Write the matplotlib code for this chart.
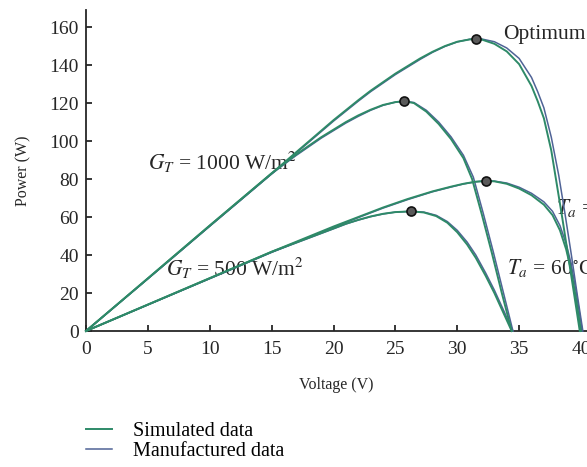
import matplotlib
matplotlib.use("Agg")
import matplotlib.pyplot as plt

plt.rcParams['font.family'] = ['Liberation Serif', 'DejaVu Serif']
plt.rcParams['mathtext.fontset'] = 'stix'

# ---- data ----
# G = 1000 W/m2, Ta = 25 C
V_A_sim = [0, 5, 10, 15, 20, 22, 23, 24, 25, 26, 27, 28, 29, 30, 31, 31.5, 32, 33, 34, 35, 36, 36.5, 37, 37.6, 38, 38.5, 39, 39.5, 39.9]
P_A_sim = [0, 27.7, 55.5, 83, 111, 121.5, 126.5, 131, 135.5, 139.5, 143.5, 147, 150, 152.3, 153.5, 153.7, 153.4, 151.2, 147.2, 140.5, 129, 121, 112, 95, 79, 59, 38, 17, 0]
V_A_man = [0, 5, 10, 15, 20, 22, 23, 24, 25, 26, 27, 28, 29, 30, 31, 31.5, 32, 33, 34, 35, 36, 36.5, 37, 37.6, 38.2, 38.7, 39.2, 39.7, 40.15]
P_A_man = [0, 27.5, 55.2, 82.7, 110.5, 121, 126, 130.5, 135, 139, 143, 146.7, 149.8, 152.2, 153.6, 153.8, 153.7, 152.3, 149, 143.5, 133.5, 126, 117.5, 102, 82, 62, 41, 19, 0]

# G = 1000 W/m2, Ta = 60 C
V_B_sim = [0, 5, 10, 15, 16, 17, 18, 19, 20, 21, 22, 23, 24, 25, 25.7, 26.5, 27.5, 28.5, 29.5, 30.5, 31.2, 32, 32.8, 33.6, 34.4]
P_B_sim = [0, 27.7, 55.5, 83, 88, 93, 97.5, 102, 106, 110, 113.5, 116.5, 119, 120.5, 121, 120, 115.5, 109, 101, 91, 80, 61, 41, 20, 0]
V_B_man = [0, 5, 10, 15, 16, 17, 18, 19, 20, 21, 22, 23, 24, 25, 25.7, 26.5, 27.5, 28.5, 29.5, 30.5, 31.3, 32.1, 32.9, 33.7, 34.5]
P_B_man = [0, 27.5, 55.2, 82.7, 87.7, 92.5, 97, 101.5, 105.5, 109.5, 113, 116.2, 118.8, 120.5, 121, 120.3, 116.2, 110, 102.2, 92.5, 81, 62, 42, 21, 0]

# G = 500 W/m2, Ta = 25 C
V_C_sim = [0, 5, 10, 15, 20, 22, 24, 26, 28, 29.5, 30.5, 31.5, 32.3, 33, 34, 35, 36, 37, 37.7, 38.3, 38.8, 39.2, 39.6, 40]
P_C_sim = [0, 13.9, 27.8, 41.7, 55, 60, 65, 69.5, 73.5, 76, 77.5, 78.6, 79, 78.8, 77.5, 75, 71.5, 66.5, 61, 53, 43, 32, 17, 0]
V_C_man = [0, 5, 10, 15, 20, 22, 24, 26, 28, 29.5, 30.5, 31.5, 32.3, 33, 34, 35, 36, 37, 37.7, 38.3, 38.8, 39.2, 39.6, 40.1]
P_C_man = [0, 13.8, 27.6, 41.4, 54.6, 59.7, 64.7, 69.2, 73.3, 75.8, 77.4, 78.6, 79, 78.9, 77.9, 75.7, 72.5, 68, 63, 55.5, 46, 35.5, 21, 0]

# G = 500 W/m2, Ta = 60 C
V_D_sim = [0, 5, 10, 15, 20, 21, 22, 23, 24, 25, 26.3, 27.3, 28.3, 29.2, 30, 30.8, 31.5, 32.3, 33, 33.7, 34.4]
P_D_sim = [0, 13.9, 27.8, 41.7, 54, 56.5, 58.5, 60.3, 61.7, 62.6, 63, 62.4, 60.5, 57, 52, 45.5, 38.5, 29, 20, 10, 0]
V_D_man = [0, 5, 10, 15, 20, 21, 22, 23, 24, 25, 26.3, 27.3, 28.3, 29.2, 30, 30.8, 31.5, 32.3, 33, 33.7, 34.5]
P_D_man = [0, 13.8, 27.6, 41.5, 53.8, 56.3, 58.4, 60.2, 61.6, 62.6, 63, 62.6, 60.9, 57.6, 53, 46.8, 40, 30.5, 21.5, 11.5, 0]

# maximum power points
V_opt = [31.5, 25.7, 32.3, 26.3]
P_opt = [153.7, 121, 79, 63]

x_ticks = [0, 5, 10, 15, 20, 25, 30, 35, 40]
y_ticks = [0, 20, 40, 60, 80, 100, 120, 140, 160]

sim_color = '#2e8a68'
man_color = '#4f6396'
ink = '#262626'

W, H = 587, 467
fig = plt.figure(figsize=(W / 100, H / 100), dpi=100)
ax = fig.add_axes([86 / W, 1 - 331 / H, (W - 86) / W, (331 - 10) / H])

sims = [(V_A_sim, P_A_sim), (V_B_sim, P_B_sim), (V_C_sim, P_C_sim), (V_D_sim, P_D_sim)]
mans = [(V_A_man, P_A_man), (V_B_man, P_B_man), (V_C_man, P_C_man), (V_D_man, P_D_man)]

h_sim = h_man = None
for (v, p) in mans:
    h_man, = ax.plot(v, p, color=man_color, lw=1.1, zorder=3, clip_on=False,
                     solid_joinstyle='round')
for (v, p) in sims:
    h_sim, = ax.plot(v, p, color=sim_color, lw=1.4, zorder=3.1, clip_on=False,
                     solid_joinstyle='round')

ax.plot(V_opt, P_opt, 'o', ms=6.5, mfc='#5a5a5a', mec='#111111', mew=1.2, zorder=4)

ax.set_xlim(0, (W - 86) / 12.375)
ax.set_ylim(0, 169)
ax.set_xticks(x_ticks)
ax.set_yticks(y_ticks)
for s in ['top', 'right']:
    ax.spines[s].set_visible(False)
for s in ['left', 'bottom']:
    ax.spines[s].set_linewidth(1.3)
    ax.spines[s].set_color(ink)
ax.tick_params(direction='in', length=4, width=1.3, labelsize=14, colors=ink)
ax.tick_params(axis='x', pad=7)
ax.tick_params(axis='y', pad=5)

ax.set_xlabel('Voltage (V)', fontsize=11.5, color=ink, labelpad=14)
ax.set_ylabel('Power (W)', fontsize=11.5, color=ink, labelpad=13)

txt_kw = dict(fontsize=15.5, color=ink, zorder=2, va='center')
ax.text(33.7, 156.3, 'Optimum', **txt_kw)
ax.text(5.0, 89, r'$G_T$ = 1000 W/m$^2$', **txt_kw)
ax.text(6.5, 33, r'$G_T$ = 500 W/m$^2$', **txt_kw)
ax.text(34.0, 33, r'$T_a$ = 60$^{\circ}$C', **txt_kw)
ax.text(38.0, 65, r'$T_a$ = 25$^{\circ}$C', **txt_kw)

fig.legend([h_sim, h_man], ['Simulated data', 'Manufactured data'],
           loc='upper left', bbox_to_anchor=(86 / W, 1 - 422 / H),
           frameon=False, fontsize=14.5, handlelength=1.3, handletextpad=1.05,
           labelspacing=0.05, borderpad=0, borderaxespad=0)

fig.savefig('out.png', dpi=100)
